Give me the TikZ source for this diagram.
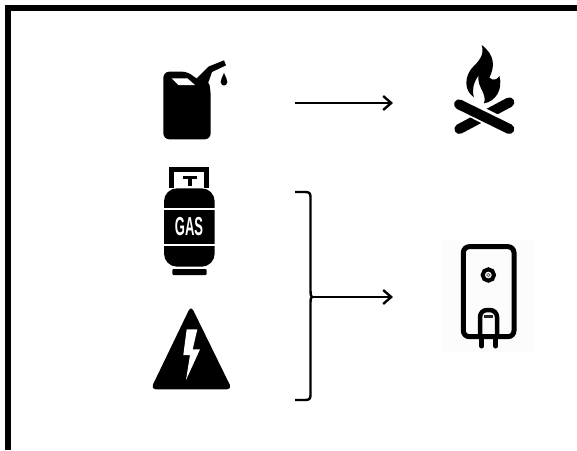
\documentclass[tikz,border=0pt]{standalone}
\usepackage{fontspec}
\setmainfont{Liberation Sans}
\usetikzlibrary{arrows.meta}
\tikzset{
  icon/.style={fill=black,draw=none},
  hole/.style={fill=white,draw=none},
  flow/.style={draw=black,line width=2.4pt,-{Straight Barb[length=8pt,width=14pt,line width=2.4pt]}},
  bracketline/.style={draw=black,line width=2.4pt},
  heaterline/.style={draw=black,line width=5pt},
  frameline/.style={draw=black,line width=6pt}
}
\begin{document}
\begin{tikzpicture}[x=1pt,y=-1pt]
\useasboundingbox (0,0) rectangle (577,450);
\fill[white] (0,0) rectangle (577,450);
\draw[frameline] (8,450) -- (8,8) -- (577,8);
% canister
\begin{scope}[shift={(140,50)},scale=1/3]
\fill[icon,rounded corners=6pt] (70,65) -- (145,65) -- (172,90) -- (205,90) -- (212,120) -- (212,268) -- (70,268) -- cycle;
\fill[icon] (170,85) -- (205,50) -- (252,31) -- (258,46) -- (216,66) -- (204,100) -- cycle;
\fill[hole] (95,85) -- (142,85) -- (165,105) -- (115,105) -- cycle;
\fill[icon] (252,68) .. controls (256,82) and (263,88) .. (262,96) .. controls (261,110) and (243,110) .. (242,96) .. controls (241,88) and (248,82) .. (252,68) -- cycle;
\end{scope}
% fire
\begin{scope}[shift={(430,35)},scale=1/3]
\fill[icon] (155,30) .. controls (195,60) and (195,95) .. (178,128) .. controls (190,140) and (205,132) .. (208,122) .. controls (220,165) and (195,200) .. (162,205) .. controls (172,175) and (142,160) .. (145,122) .. controls (130,145) and (125,165) .. (132,187) .. controls (100,165) and (105,125) .. (125,100) .. controls (145,80) and (165,60) .. (155,30) -- cycle;
\draw[line width=10pt,line cap=round] (88,282) -- (238,202);
\draw[white,line width=15pt] (125,224) -- (200,262);
\draw[line width=10pt,line cap=round] (87,208) -- (238,282);
\end{scope}
% gas bottle
\begin{scope}[shift={(140,160)},scale=1/3]
\draw[line width=5pt] (95,85) -- (95,27) -- (199,27) -- (199,85);
\fill[icon] (130,48) rectangle (170,58);
\fill[icon] (145,58) rectangle (155,78);
\fill[icon,rounded corners=13pt] (72,320) -- (72,85) -- (224,85) -- (224,320) -- cycle;
\fill[hole] (70,145) rectangle (226,151);
\fill[hole] (70,252) rectangle (226,258);
\fill[icon,rounded corners=1pt] (97,327) rectangle (200,345);
\node[text=white,font=\bfseries\fontsize{26}{26}\selectfont,inner sep=0pt] (gaslabel) at (147,200) {\scalebox{.5}[1]{GAS}};
\end{scope}
% warning triangle
\begin{scope}[shift={(140,300)},scale=1/3]
\fill[icon,rounded corners=5pt] (153,17) -- (276,268) -- (32,268) -- cycle;
\fill[hole] (140,88) -- (172,88) -- (158,148) -- (180,148) -- (138,240) -- (150,165) -- (130,165) -- cycle;
\end{scope}
% water heater
\fill[black!1] (443,240) rectangle (535,352);
\begin{scope}[shift={(435,235)},scale=1/3]
\draw[heaterline,rounded corners=6pt] (85,35) rectangle (237,305);
\draw[line width=4pt] (160,120) circle (17);
\draw[line width=.8pt,black!60] (160,120) circle (5);
\draw[line width=4.5pt,rounded corners=7pt] (135,300) -- (135,225) -- (186,225) -- (186,300);
\draw[line width=3.4pt,black!85] (146,245) -- (174,245);
\draw[line width=5pt,line cap=round] (140,305) -- (140,333);
\draw[line width=5pt,line cap=round] (182,305) -- (182,333);
\end{scope}
% connectors
\coordinate (topstart) at (295,103);
\coordinate (topend) at (393,103);
\coordinate (brtop) at (295,192);
\coordinate (brmid) at (312,297);
\coordinate (brbot) at (295,400);
\coordinate (brend) at (393,297);
\draw[flow] (topstart) -- (topend);
\draw[bracketline] (brtop) -- (305,192) .. controls (309,192) and (310.5,193) .. (310.5,197) -- (310.5,290) .. controls (310.5,295) and (311,296.5) .. (brmid);
\draw[bracketline] (brbot) -- (305,400) .. controls (309,400) and (310.5,399) .. (310.5,395) -- (310.5,303) .. controls (310.5,298.5) and (311,297.5) .. (brmid);
\draw[flow] (brmid) -- (brend);
\end{tikzpicture}
\end{document}
